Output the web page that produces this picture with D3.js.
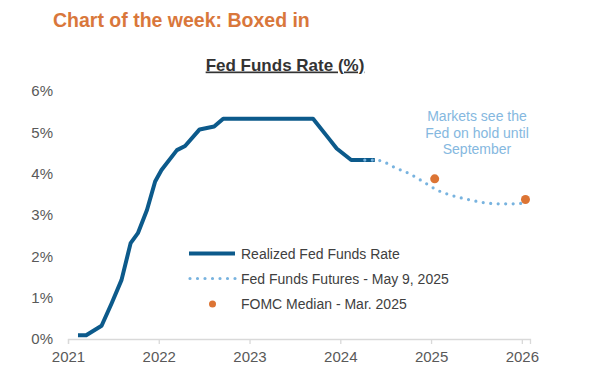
<!DOCTYPE html>
<html>
<head>
<meta charset="utf-8">
<script src="https://cdn.jsdelivr.net/npm/d3@7"></script>
<style>
  body { margin: 0; background: #fff; }
  svg { font-family: "Liberation Sans", Arial, sans-serif; }
</style>
</head>
<body>
<div id="chart"></div>
<script>
// realized fed funds rate (decimal year, %)
var realizedYears = [2021.11, 2021.20, 2021.37, 2021.48, 2021.59, 2021.69, 2021.77, 2021.87, 2021.96, 2022.03,
                     2022.20, 2022.29, 2022.45, 2022.61, 2022.71, 2023.70, 2023.87, 2023.96, 2024.12, 2024.38];
var realizedRates = [0.09, 0.09, 0.32, 0.86, 1.43, 2.32, 2.56, 3.12, 3.81, 4.09,
                     4.57, 4.67, 5.07, 5.14, 5.33, 5.33, 4.86, 4.61, 4.33, 4.33];

// fed funds futures - May 9, 2025
var futuresYears = [2024.27, 2024.38, 2024.45, 2024.60, 2024.77, 2024.91, 2025.07, 2025.22, 2025.40, 2025.58, 2025.77, 2025.92, 2026.03];
var futuresRates = [4.33, 4.33, 4.31, 4.15, 3.99, 3.81, 3.60, 3.48, 3.38, 3.30, 3.27, 3.27, 3.29];

// FOMC median - Mar. 2025
var fomcYears = [2025.04, 2026.04];
var fomcRates = [3.875, 3.375];

var yearTicks = [2021, 2022, 2023, 2024, 2025, 2026];
var rateTicks = [0, 1, 2, 3, 4, 5, 6];

var legendLabels = ["Realized Fed Funds Rate", "Fed Funds Futures - May 9, 2025", "FOMC Median - Mar. 2025"];
var noteLines = ["Markets see the", "Fed on hold until", "September"];

var width = 600, height = 376;
var darkBlue = "#0c5a8b", lightBlue = "#78b3df", orange = "#dc7434";

var svg = d3.select("#chart").append("svg")
  .attr("width", width)
  .attr("height", height);

// titles
svg.append("text")
  .attr("x", 53).attr("y", 26.5)
  .attr("fill", "#d9773b")
  .style("font-size", "19.5px")
  .style("font-weight", "bold")
  .text("Chart of the week: Boxed in");

svg.append("text")
  .attr("x", 285).attr("y", 70.5)
  .attr("text-anchor", "middle")
  .attr("fill", "#333")
  .style("font-size", "17px")
  .style("font-weight", "bold")
  .style("text-decoration", "underline")
  .text("Fed Funds Rate (%)");

var x = d3.scaleLinear().domain([2021, 2026.09]).range([68, 530]);
var y = d3.scaleLinear().domain([0, 6]).range([339, 91]);

// x axis
var xAxis = svg.append("g")
  .attr("transform", "translate(0," + y(0) + ")")
  .call(d3.axisBottom(x).tickValues(yearTicks).tickFormat(d3.format("d")).tickSizeOuter(0).tickSize(5).tickPadding(7));
xAxis.select(".domain").attr("stroke", "#d9d9d9").attr("stroke-width", 1.3);
xAxis.selectAll(".tick line").attr("stroke", "#d9d9d9").attr("stroke-width", 1.3);
xAxis.selectAll(".tick text")
  .attr("fill", "#595959")
  .style("font-size", "15px")
  .style("font-family", "'Liberation Sans', Arial, sans-serif");

// y axis labels only
var yAxis = svg.append("g")
  .attr("transform", "translate(53,0)")
  .call(d3.axisLeft(y).tickValues(rateTicks).tickFormat(function(d) { return d + "%"; }).tickSize(0).tickPadding(0));
yAxis.select(".domain").remove();
yAxis.selectAll(".tick text")
  .attr("fill", "#595959")
  .style("font-size", "15px")
  .style("font-family", "'Liberation Sans', Arial, sans-serif");

var realized = realizedYears.map(function(d, i) { return [d, realizedRates[i]]; });
var futures = futuresYears.map(function(d, i) { return [d, futuresRates[i]]; });
var fomc = fomcYears.map(function(d, i) { return [d, fomcRates[i]]; });

var line = d3.line().x(function(d) { return x(d[0]); }).y(function(d) { return y(d[1]); });

svg.append("path")
  .datum(realized)
  .attr("fill", "none")
  .attr("stroke", darkBlue)
  .attr("stroke-width", 4)
  .attr("stroke-linejoin", "round")
  .attr("d", line);

svg.append("path")
  .datum(futures)
  .attr("fill", "none")
  .attr("stroke", lightBlue)
  .attr("stroke-width", 3.2)
  .attr("stroke-linecap", "round")
  .attr("stroke-dasharray", "0,7.5")
  .attr("d", line.curve(d3.curveMonotoneX));

svg.selectAll(".fomc")
  .data(fomc)
  .enter()
  .append("circle")
  .attr("class", "fomc")
  .attr("cx", function(d) { return x(d[0]); })
  .attr("cy", function(d) { return y(d[1]); })
  .attr("r", 4.5)
  .attr("fill", orange);

// annotation
svg.append("text")
  .attr("text-anchor", "middle")
  .attr("fill", "#85b8e0")
  .style("font-size", "14px")
  .selectAll("tspan")
  .data(noteLines)
  .enter()
  .append("tspan")
  .attr("x", 477)
  .attr("y", function(d, i) { return 121 + i * 16.5; })
  .text(function(d) { return d; });

// legend
var legend = svg.append("g");
var rowY = [253.5, 278.5, 304];

legend.append("line")
  .attr("x1", 189).attr("x2", 235).attr("y1", rowY[0]).attr("y2", rowY[0])
  .attr("stroke", darkBlue).attr("stroke-width", 4);

legend.append("line")
  .attr("x1", 190).attr("x2", 236).attr("y1", rowY[1]).attr("y2", rowY[1])
  .attr("stroke", lightBlue).attr("stroke-width", 3.2)
  .attr("stroke-linecap", "round").attr("stroke-dasharray", "0,7.5");

legend.append("circle")
  .attr("cx", 212.5).attr("cy", rowY[2]).attr("r", 3.5)
  .attr("fill", orange);

legend.selectAll(".lab")
  .data(legendLabels)
  .enter()
  .append("text")
  .attr("class", "lab")
  .attr("x", 241)
  .attr("y", function(d, i) { return rowY[i] + 5; })
  .attr("fill", "#404040")
  .style("font-size", "14px")
  .text(function(d) { return d; });
</script>
</body>
</html>
